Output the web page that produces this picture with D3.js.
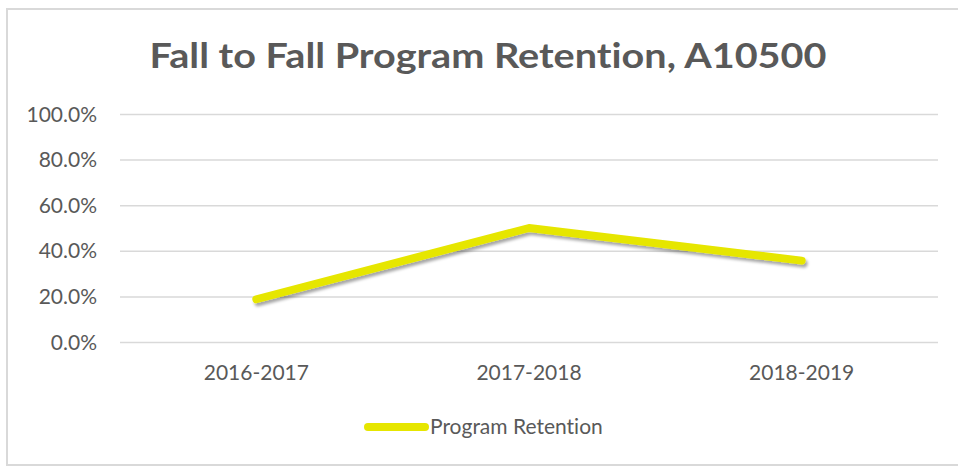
<!DOCTYPE html>
<html>
<head>
<meta charset="utf-8">
<script src="https://cdn.jsdelivr.net/npm/d3@7"></script>
<style>
  body { margin: 0; background: #fff; }
  text { font-family: Lato, "Open Sans", sans-serif; fill: #595959; font-variant-ligatures: none; }
</style>
</head>
<body>
<div id="chart"></div>
<script>
// data
const years = ["2016-2017", "2017-2018", "2018-2019"];
const retention = [0.1875, 0.5, 0.357];
const yTicks = [0, 0.2, 0.4, 0.6, 0.8, 1.0];
const chartTitle = "Fall to Fall Program Retention, A10500";
const seriesName = "Program Retention";

const W = 958, H = 467;
const plot = {left: 120, right: 938, top: 114, bottom: 342};
const lineColor = "#e6e600";
const labelSize = "21px";

const svg = d3.select("#chart").append("svg")
    .attr("width", W)
    .attr("height", H);

// shadow under the series line
const defs = svg.append("defs");
defs.append("filter")
    .attr("id", "shadow")
    .attr("x", "-10%").attr("y", "-50%")
    .attr("width", "120%").attr("height", "200%")
    .append("feDropShadow")
    .attr("dx", 2).attr("dy", 3)
    .attr("stdDeviation", 1.8)
    .attr("flood-color", "#000")
    .attr("flood-opacity", 0.35);

// chart border
svg.append("rect")
    .attr("x", 7).attr("y", 9)
    .attr("width", 960).attr("height", 456)
    .attr("fill", "none")
    .attr("stroke", "#d9d9d9")
    .attr("stroke-width", 2);

// title
svg.append("text")
    .attr("x", 488)
    .attr("y", 68)
    .attr("text-anchor", "middle")
    .attr("textLength", 677)
    .attr("lengthAdjust", "spacingAndGlyphs")
    .style("font-size", "35px")
    .style("font-weight", "bold")
    .text(chartTitle);

// scales
const x = d3.scaleBand()
    .domain(years)
    .range([plot.left, plot.right]);

const y = d3.scaleLinear()
    .domain([0, 1])
    .range([plot.bottom, plot.top]);

// y axis + gridlines
const yAxis = d3.axisLeft(y)
    .tickValues(yTicks)
    .tickFormat(d3.format(".1%"))
    .tickSize(-(plot.right - plot.left))
    .tickPadding(23);

const gy = svg.append("g")
    .attr("class", "y-axis")
    .attr("transform", "translate(" + plot.left + ",0)")
    .call(yAxis);
gy.select(".domain").remove();
gy.selectAll(".tick line")
    .attr("stroke", "#d9d9d9")
    .attr("stroke-width", 1.5);
gy.selectAll(".tick text")
    .style("font-size", labelSize)
    .style("font-family", "Lato, 'Open Sans', sans-serif")
    .attr("fill", "#595959")
    .attr("dy", "0.34em");

// x axis
const xAxis = d3.axisBottom(x)
    .tickSize(0)
    .tickPadding(23);

const gx = svg.append("g")
    .attr("class", "x-axis")
    .attr("transform", "translate(0," + plot.bottom + ")")
    .call(xAxis);
gx.select(".domain").remove();
gx.selectAll(".tick text")
    .style("font-size", labelSize)
    .style("font-family", "Lato, 'Open Sans', sans-serif")
    .attr("fill", "#595959");

// series line
const pts = years.map((d, i) => ({year: d, value: retention[i]}));
const line = d3.line()
    .x(d => x(d.year) + x.bandwidth() / 2)
    .y(d => y(d.value));

svg.append("path")
    .datum(pts)
    .attr("d", line)
    .attr("fill", "none")
    .attr("stroke", lineColor)
    .attr("stroke-width", 8)
    .attr("stroke-linecap", "round")
    .attr("stroke-linejoin", "round")
    .attr("filter", "url(#shadow)");

// legend
const legend = svg.append("g")
    .attr("transform", "translate(368,427)");
legend.append("line")
    .attr("x1", 0).attr("x2", 57)
    .attr("y1", 0).attr("y2", 0)
    .attr("stroke", lineColor)
    .attr("stroke-width", 8)
    .attr("stroke-linecap", "round");
legend.append("text")
    .attr("x", 62)
    .attr("y", 7)
    .style("font-size", labelSize)
    .text(seriesName);
</script>
</body>
</html>
